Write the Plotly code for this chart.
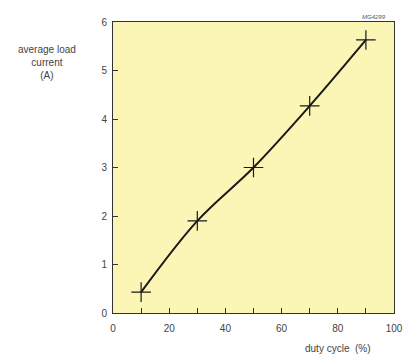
import plotly.graph_objects as go

duty_cycle = [10, 30, 50, 70, 90]
load_current = [0.43, 1.9, 3.0, 4.27, 5.63]

x_tick_vals = [0, 20, 40, 60, 80, 100]
y_tick_vals = [0, 1, 2, 3, 4, 5, 6]

fig = go.Figure()
fig.add_trace(go.Scatter(
    x=duty_cycle, y=load_current,
    mode="lines+markers",
    line=dict(color="#1a1a1a", width=2, shape="spline", smoothing=1.0),
    marker=dict(symbol="cross-thin", size=14, line=dict(color="#1a1a1a", width=1.2)),
    showlegend=False,
))

fig.update_layout(
    width=413, height=357,
    margin=dict(l=113, r=10, t=22, b=44),
    paper_bgcolor="white",
    plot_bgcolor="#FBF6B6",
    font=dict(family="Liberation Sans, Arial, sans-serif", size=10, color="#333"),
)
fig.update_xaxes(
    range=[0, 100], tickvals=x_tick_vals, ticks="inside", ticklen=5,
    tickcolor="#333", showgrid=False, zeroline=False,
    showline=True, linecolor="#333", linewidth=1, mirror=True,
    minor=dict(dtick=10, ticks="inside", ticklen=5, tickcolor="#333", showgrid=False),
    tickfont=dict(size=10, color="#444"), ticklabelstandoff=6,
)
fig.update_yaxes(
    range=[0, 6], tickvals=y_tick_vals, ticks="inside", ticklen=5,
    tickcolor="#333", showgrid=False, zeroline=False,
    showline=True, linecolor="#333", linewidth=1, mirror=True,
    tickfont=dict(size=10, color="#444"), ticklabelstandoff=3,
)
fig.add_annotation(text="average load<br>current<br>(A)", xref="paper", yref="paper",
                   x=-0.235, y=0.93, xanchor="center", yanchor="top", showarrow=False,
                   font=dict(size=10, color="#444"), align="center")
fig.add_annotation(text="duty cycle  (%)", xref="paper", yref="paper",
                   x=0.80, y=-0.097, xanchor="center", yanchor="top", showarrow=False,
                   font=dict(size=10, color="#444"))
fig.add_annotation(text="<i>MG4299</i>", xref="paper", yref="paper",
                   x=0.93, y=1.0, xanchor="center", yanchor="bottom", showarrow=False,
                   font=dict(size=6, color="#555"))

fig.write_html("out.html")
